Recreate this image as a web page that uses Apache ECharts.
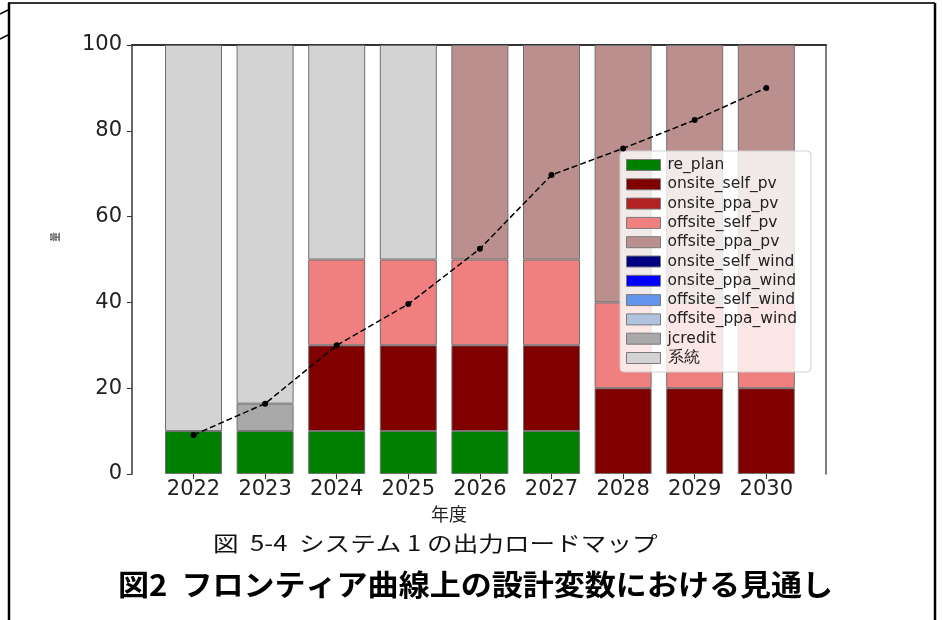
<!DOCTYPE html>
<html>
<head>
<meta charset="utf-8">
<script src="https://cdn.jsdelivr.net/npm/echarts@6/dist/echarts.min.js"></script>
<style>
html,body{margin:0;padding:0;background:#fff;}
#chart{width:942px;height:620px;}
</style>
</head>
<body>
<div id="chart"></div>
<script>
const years = ['2022','2023','2024','2025','2026','2027','2028','2029','2030'];
const yTicks = [0, 20, 40, 60, 80, 100];

const re_plan           = [10, 10, 10, 10, 10, 10, 0, 0, 0];
const onsite_self_pv    = [0, 0, 20, 20, 20, 20, 20, 20, 20];
const onsite_ppa_pv     = [0, 0, 0, 0, 0, 0, 0, 0, 0];
const offsite_self_pv   = [0, 0, 20, 20, 20, 20, 20, 20, 20];
const offsite_ppa_pv    = [0, 0, 0, 0, 50, 50, 60, 60, 60];
const onsite_self_wind  = [0, 0, 0, 0, 0, 0, 0, 0, 0];
const onsite_ppa_wind   = [0, 0, 0, 0, 0, 0, 0, 0, 0];
const offsite_self_wind = [0, 0, 0, 0, 0, 0, 0, 0, 0];
const offsite_ppa_wind  = [0, 0, 0, 0, 0, 0, 0, 0, 0];
const jcredit           = [0, 6.4, 0, 0, 0, 0, 0, 0, 0];
const grid_power        = [90, 83.6, 50, 50, 0, 0, 0, 0, 0];
const line_values       = [9.1, 16.4, 30, 39.6, 52.5, 69.7, 75.9, 82.5, 90];

const seriesDefs = [
  ['re_plan', re_plan, '#008000'],
  ['onsite_self_pv', onsite_self_pv, '#800000'],
  ['onsite_ppa_pv', onsite_ppa_pv, '#b22222'],
  ['offsite_self_pv', offsite_self_pv, '#f08080'],
  ['offsite_ppa_pv', offsite_ppa_pv, '#bc8f8f'],
  ['onsite_self_wind', onsite_self_wind, '#000080'],
  ['onsite_ppa_wind', onsite_ppa_wind, '#0000ff'],
  ['offsite_self_wind', offsite_self_wind, '#6495ed'],
  ['offsite_ppa_wind', offsite_ppa_wind, '#b0c4de'],
  ['jcredit', jcredit, '#a9a9a9'],
  ['系統', grid_power, '#d3d3d3']
];

const chart = echarts.init(document.getElementById('chart'), null, {renderer: 'canvas'});
const tickFont = 'DejaVu Sans';

const series = seriesDefs.map(([name, data, color]) => ({
  name: name,
  type: 'bar',
  stack: 'total',
  xAxisIndex: 0,
  yAxisIndex: 0,
  barWidth: 57,
  data: data.map(v => v === 0 ? '-' : v),
  itemStyle: {color: color, borderColor: '#707070', borderWidth: 1},
  emphasis: {disabled: true}
}));

series.push({
  name: 'target',
  type: 'line',
  xAxisIndex: 0,
  yAxisIndex: 0,
  data: line_values,
  symbol: 'circle',
  symbolSize: 6,
  z: 5,
  lineStyle: {color: '#000', width: 1.5, type: [6, 3]},
  itemStyle: {color: '#000'}
});

const option = {
  animation: false,
  backgroundColor: '#fff',
  grid: [
    {left: 157.7, right: 139.9, top: 45, bottom: 146},
    {left: 132, right: 116, top: 45, bottom: 146}
  ],
  xAxis: [
    {
      type: 'category', gridIndex: 0, data: years,
      axisLine: {show: false},
      axisTick: {show: true, alignWithLabel: true, length: 5, lineStyle: {color: '#333'}},
      axisLabel: {fontFamily: tickFont, fontSize: 21, color: '#222', margin: 5},
      name: '年度', nameLocation: 'middle', nameGap: 27,
      nameTextStyle: {fontFamily: 'Noto Sans CJK JP', fontSize: 18, color: '#222', padding: [0, 62, 0, 0]}
    },
    {
      type: 'value', gridIndex: 1, position: 'top', min: 0, max: 1,
      axisLine: {show: true, onZero: false, lineStyle: {color: '#333', width: 2}},
      axisTick: {show: false}, axisLabel: {show: false}, splitLine: {show: false}
    }
  ],
  yAxis: [
    {
      type: 'value', gridIndex: 0, min: 0, max: 100, interval: 20,
      show: false, splitLine: {show: false}
    },
    {
      type: 'value', gridIndex: 1, min: 0, max: 100, interval: 20, position: 'left',
      axisLine: {show: true, onZero: false, lineStyle: {color: '#333', width: 1.5}},
      axisTick: {show: true, length: 5, lineStyle: {color: '#333'}},
      axisLabel: {fontFamily: tickFont, fontSize: 21, color: '#222', margin: 10,
        formatter: v => yTicks.includes(v) ? String(v) : ''},
      splitLine: {show: false}
    },
    {
      type: 'value', gridIndex: 1, min: 0, max: 100, position: 'right',
      axisLine: {show: true, onZero: false, lineStyle: {color: '#555', width: 1.5}},
      axisTick: {show: false}, axisLabel: {show: false}, splitLine: {show: false}
    }
  ],
  legend: {
    data: seriesDefs.map(d => d[0]),
    orient: 'vertical',
    left: 620, top: 151,
    padding: [6, 14, 6, 6],
    itemWidth: 34, itemHeight: 11, itemGap: 3.3,
    backgroundColor: 'rgba(255,255,255,0.8)',
    borderColor: '#d0d0d0', borderWidth: 1, borderRadius: 4,
    selectedMode: false,
    icon: 'rect',
    itemStyle: {borderColor: '#7a7a7a', borderWidth: 1},
    textStyle: {fontFamily: tickFont, fontSize: 15.5, color: '#222', lineHeight: 15, padding: [0, 0, 0, 2]}
  },
  graphic: [
    {type: 'line', shape: {x1: 8, y1: 3, x2: 935, y2: 3}, style: {stroke: '#333', lineWidth: 2}},
    {type: 'line', shape: {x1: 9, y1: 3, x2: 9, y2: 620}, style: {stroke: '#000', lineWidth: 2.5}},
    {type: 'line', shape: {x1: 935, y1: 3, x2: 935, y2: 620}, style: {stroke: '#000', lineWidth: 2.5}},
    {type: 'line', shape: {x1: 0, y1: 14, x2: 8, y2: 10}, style: {stroke: '#000', lineWidth: 1.5}},
    {type: 'line', shape: {x1: 0, y1: 39, x2: 8, y2: 35}, style: {stroke: '#000', lineWidth: 1.5}},
    {type: 'text', x: 55, y: 237, rotation: Math.PI / 2, originX: 0, originY: 0,
      style: {text: '量', font: '10px "Noto Sans CJK JP"', fill: '#222', align: 'center', verticalAlign: 'middle'}},
    {type: 'text', x: 213, y: 533, scaleX: 1.22,
      style: {text: '図  5-4  システム 1 の出力ロードマップ', font: '21px "Noto Sans CJK JP"', fill: '#111'}},
    {type: 'text', x: 118, y: 570, scaleX: 1.07,
      style: {text: '図2  フロンティア曲線上の設計変数における見通し', font: 'bold 29px "Noto Sans CJK JP"', fill: '#000'}}
  ],
  series: series
};

chart.setOption(option);
</script>
</body>
</html>
